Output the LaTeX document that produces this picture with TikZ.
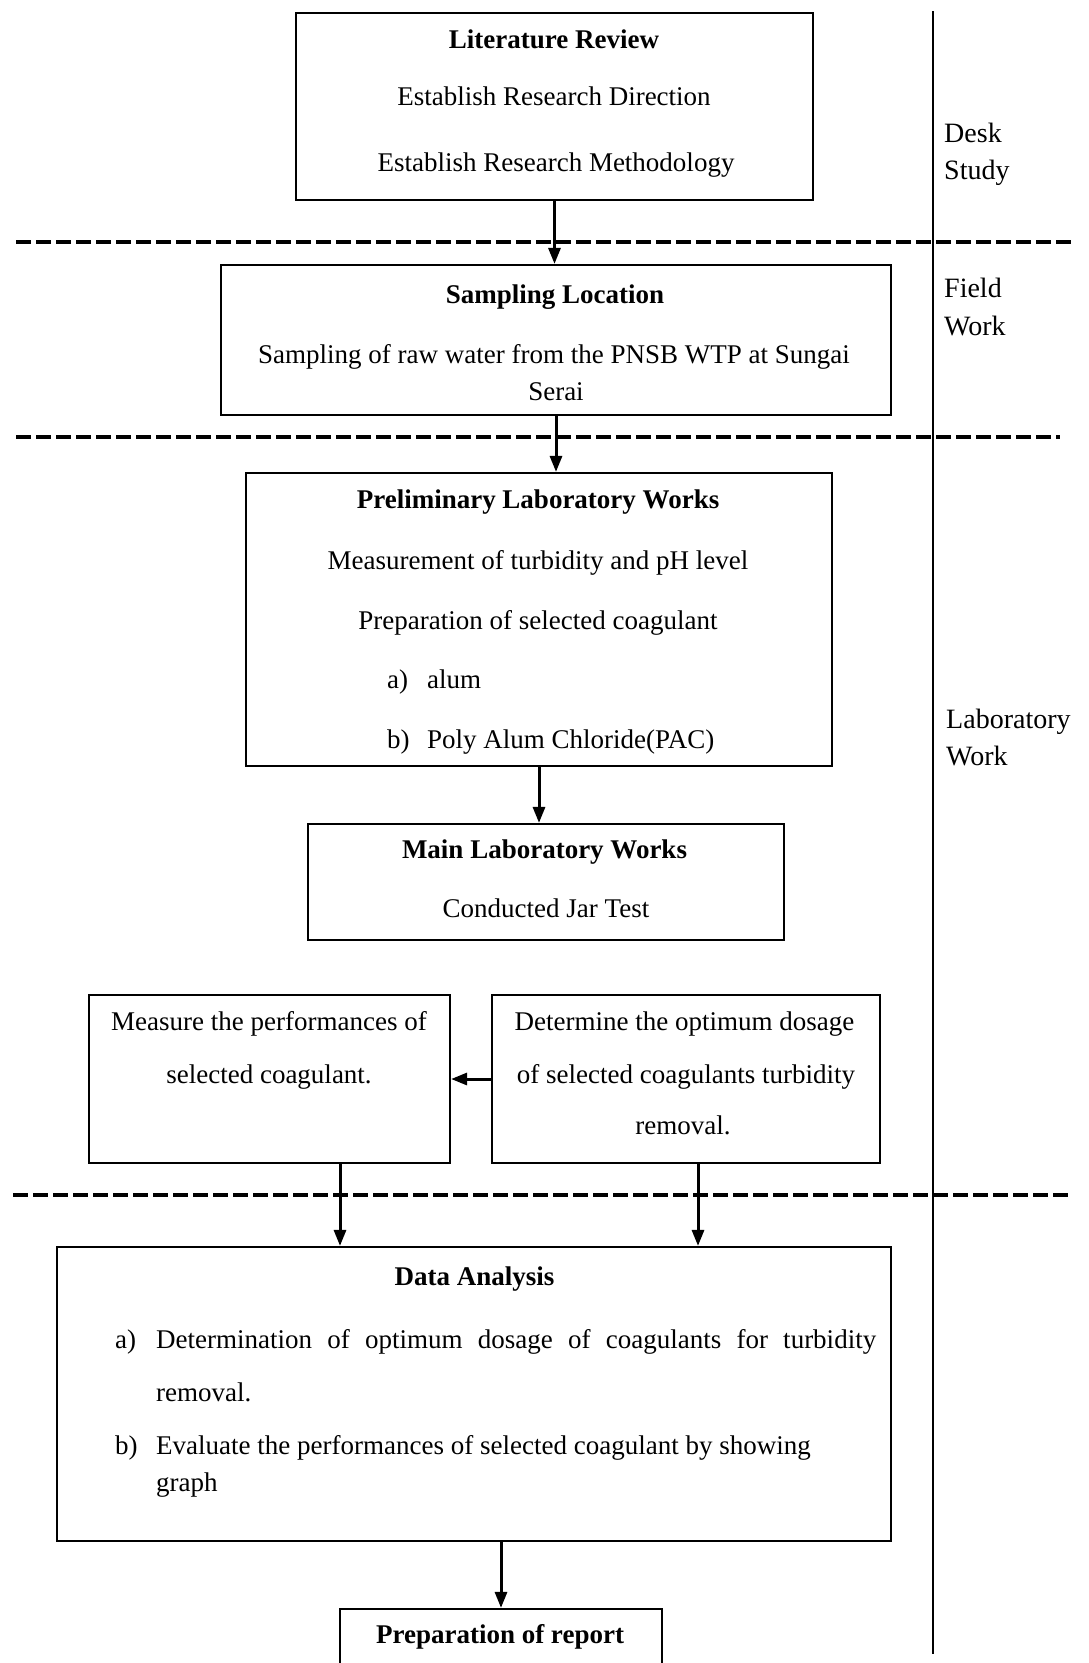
\documentclass[tikz,border=0pt]{standalone}
\usepackage{fontspec}
\setmainfont{Liberation Serif}
\usetikzlibrary{arrows.meta}
\begin{document}
\begin{tikzpicture}[x=1pt,y=-1pt,
  box/.style={draw, line width=2.2pt, inner sep=0pt},
  txt/.style={inner sep=0pt, font=\fontsize{27}{32}\selectfont, text height=22pt, text depth=3pt},
  ttl/.style={txt, font=\fontsize{27}{32}\selectfont\bfseries},
  lbl/.style={txt, anchor=west, font=\fontsize{28}{32}\selectfont},
  arr/.style={line width=3pt, -{Triangle[length=16pt,width=12pt]}},
  sep/.style={line width=3.5pt, dash pattern=on 15pt off 5pt}
]
\clip (0,0) rectangle (1088,1663);
\fill[white] (0,0) rectangle (1088,1663);

% phase separators
\draw[line width=1.3pt] (933,11) -- (933,1654);
\draw[sep] (16,242) -- (1071,242);
\draw[sep] (16,437) -- (1060,437);
\draw[sep] (13,1195) -- (1071,1195);

% phase labels
\node[lbl] (l1a) at (944,133) {Desk};
\node[lbl] (l1b) at (944,170) {Study};
\node[lbl] (l2a) at (944,288) {Field};
\node[lbl] (l2b) at (944,326) {Work};
\node[lbl] (l3a) at (946,719) {Laboratory};
\node[lbl] (l3b) at (946,756) {Work};

% boxes
\node[box, minimum width=517pt, minimum height=187pt] (b1) at (554.5,106.5) {};
\node[box, minimum width=670pt, minimum height=150pt] (b2) at (556,340) {};
\node[box, minimum width=586pt, minimum height=293pt] (b3) at (539,619.5) {};
\node[box, minimum width=476pt, minimum height=116pt] (b4) at (546,882) {};
\node[box, minimum width=361pt, minimum height=168pt] (b5) at (269.5,1079) {};
\node[box, minimum width=388pt, minimum height=168pt] (b6) at (686,1079) {};
\node[box, minimum width=834pt, minimum height=294pt] (b7) at (474,1394) {};
\node[box, minimum width=322pt, minimum height=91pt] (b8) at (501,1654.5) {};

% box 1
\node[ttl] (t1) at (554,39) {Literature Review};
\node[txt] (t1a) at (554,96) {Establish Research Direction};
\node[txt] (t1b) at (556,162) {Establish Research Methodology};

% box 2
\node[ttl] (t2) at (555,294) {Sampling Location};
\node[txt] (t2a) at (554,354) {Sampling of raw water from the PNSB WTP at Sungai};
\node[txt] (t2b) at (556,391) {Serai};

% box 3
\node[ttl] (t3) at (538,499) {Preliminary Laboratory Works};
\node[txt] (t3a) at (538,560) {Measurement of turbidity and pH level};
\node[txt] (t3b) at (538,620) {Preparation of selected coagulant};
\node[txt, anchor=west] (t3c) at (387,679) {a)};
\node[txt, anchor=west] (t3d) at (427,679) {alum};
\node[txt, anchor=west] (t3e) at (387,739) {b)};
\node[txt, anchor=west] (t3f) at (427,739) {Poly Alum Chloride(PAC)};

% box 4
\node[ttl] (t4) at (544.5,849) {Main Laboratory Works};
\node[txt] (t4a) at (546,908) {Conducted Jar Test};

% box 5
\node[txt] (t5a) at (269,1021) {Measure the performances of};
\node[txt] (t5b) at (269,1074) {selected coagulant.};

% box 6
\node[txt] (t6a) at (684.5,1021) {Determine the optimum dosage};
\node[txt] (t6b) at (686,1074) {of selected coagulants turbidity};
\node[txt] (t6c) at (683,1125) {removal.};

% box 7
\node[ttl] (t7) at (474.5,1276) {Data Analysis};
\node[txt, anchor=west] (t7a) at (115,1339) {a)};
\node[txt, anchor=west] (t7b) at (156,1339) {\makebox[720pt][s]{Determination of optimum dosage of coagulants for turbidity}};
\node[txt, anchor=west] (t7c) at (156,1392) {removal.};
\node[txt, anchor=west] (t7d) at (115,1445) {b)};
\node[txt, anchor=west] (t7e) at (156,1445) {Evaluate the performances of selected coagulant by showing};
\node[txt, anchor=west] (t7f) at (156,1482) {graph};

% box 8
\node[ttl] (t8) at (500,1634) {Preparation of report};

% connectors
\draw[arr] (b1.south) -- (b1.south |- b2.north);
\draw[arr] (b2.south) -- (b2.south |- b3.north);
\draw[arr] (b3.south) -- (b3.south |- b4.north);
\draw[arr] (b6.west) -- (b5.east);
\draw[arr] ([xshift=70.5pt]b5.south) -- ([xshift=70.5pt]b5.south |- b7.north);
\draw[arr] ([xshift=12pt]b6.south) -- ([xshift=12pt]b6.south |- b7.north);
\draw[arr] (b8.north |- b7.south) -- (b8.north);
\end{tikzpicture}
\end{document}
